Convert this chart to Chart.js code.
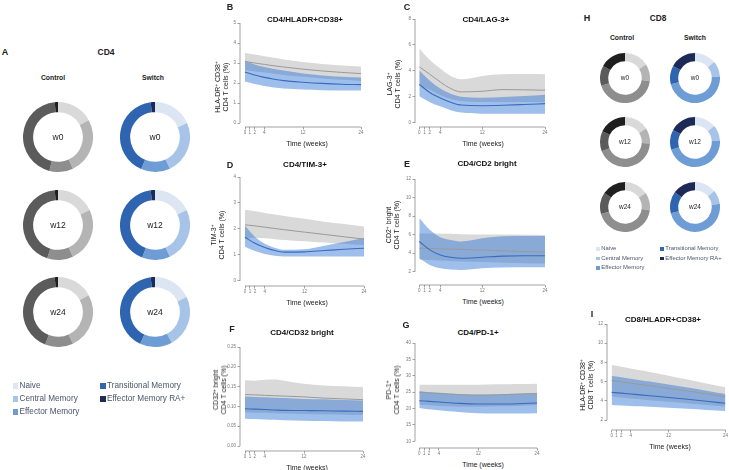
<!DOCTYPE html>
<html>
<head>
<meta charset="utf-8">
<script src="https://cdn.jsdelivr.net/npm/chart.js@4.4.1/dist/chart.umd.min.js"></script>
<style>
  body { margin: 0; background: #fff; }
  #fig { position: relative; width: 729px; height: 470px; overflow: hidden; font-family: "Liberation Sans", Arial, sans-serif; color: #222; }
  #fig canvas { position: absolute; }
  .t { position: absolute; white-space: nowrap; line-height: 1; transform: translate(-50%, -50%); }
  .l { transform: translate(0, -50%); }
  .ylab { text-align: center; line-height: 8px; transform: translate(-50%, -50%) rotate(-90deg); }
  sup { font-size: 70%; line-height: 0; vertical-align: 0.45em; }
  .sw { position: absolute; }
</style>
</head>
<body>
<div id="fig"></div>
<script>
// ---- data -------------------------------------------------------------
const subsets = ['Naive', 'Central Memory', 'Effector Memory', 'Transitional Memory', 'Effector Memory RA+'];
const visits = ['w0', 'w12', 'w24'];

// CD4 subset proportions (%), order as in subsets
const cd4Control = [
  [17, 26, 11, 44.5, 1.5],
  [18, 25, 12, 43.5, 1.5],
  [17, 26, 13, 42.5, 1.5]
];
const cd4Switch = [
  [18.5, 24.5, 13.5, 41.5, 2],
  [18, 25, 13, 42, 2],
  [18, 24, 15, 41, 2]
];
// CD8 subset proportions (%)
const cd8Control = [
  [16, 11, 43, 13, 17],
  [16, 10, 43, 13, 18],
  [15.5, 11.5, 43.5, 14, 15.5]
];
const cd8Switch = [
  [14, 10, 47, 12, 17],
  [14, 10, 46, 13, 17],
  [14, 9, 48, 14, 15]
];

// model fits over time
const weeks = [0, 2, 4, 6, 8, 12, 16, 20, 24];
const weekTicks = [0, 1, 2, 4, 12, 24];

// B  CD4/HLADR+CD38+
const hladr4CtrlHi  = [3.50, 3.42, 3.34, 3.26, 3.18, 3.05, 2.95, 2.88, 2.83];
const hladr4CtrlMid = [3.08, 3.00, 2.93, 2.86, 2.80, 2.69, 2.60, 2.53, 2.47];
const hladr4CtrlLo  = [2.65, 2.58, 2.52, 2.46, 2.40, 2.31, 2.23, 2.16, 2.10];
const hladr4SwHi    = [3.10, 2.93, 2.80, 2.70, 2.62, 2.48, 2.38, 2.31, 2.27];
const hladr4SwMid   = [2.55, 2.40, 2.28, 2.19, 2.12, 2.04, 1.98, 1.94, 1.92];
const hladr4SwLo    = [2.08, 1.95, 1.85, 1.77, 1.72, 1.67, 1.64, 1.63, 1.63];
const hladr4Ticks   = [0, 1, 2, 3, 4, 5];

// C  CD4/LAG-3+
const lagCtrlHi  = [5.73, 4.85, 4.19, 3.62, 3.36, 3.62, 3.75, 3.76, 3.75];
const lagCtrlMid = [4.32, 3.75, 3.16, 2.65, 2.39, 2.44, 2.57, 2.55, 2.52];
const lagCtrlLo  = [2.90, 2.55, 2.15, 1.85, 1.70, 1.62, 1.62, 1.62, 1.62];
const lagSwHi    = [4.06, 3.25, 2.65, 2.25, 2.02, 1.95, 2.00, 2.08, 2.18];
const lagSwMid   = [2.96, 2.35, 1.93, 1.60, 1.38, 1.33, 1.36, 1.42, 1.49];
const lagSwLo    = [2.06, 1.60, 1.29, 0.98, 0.80, 0.72, 0.72, 0.72, 0.72];
const lagTicks   = [0, 2, 4, 6, 8];

// D  CD4/TIM-3+
const timCtrlHi  = [2.74, 2.68, 2.62, 2.56, 2.50, 2.39, 2.28, 2.19, 2.10];
const timCtrlMid = [2.16, 2.12, 2.07, 2.02, 1.97, 1.88, 1.79, 1.70, 1.61];
const timCtrlLo  = [1.62, 1.66, 1.64, 1.61, 1.58, 1.53, 1.48, 1.43, 1.38];
const timSwHi    = [2.12, 1.70, 1.43, 1.28, 1.20, 1.22, 1.36, 1.50, 1.65];
const timSwMid   = [1.68, 1.45, 1.29, 1.17, 1.11, 1.12, 1.17, 1.22, 1.26];
const timSwLo    = [1.32, 1.15, 1.04, 0.97, 0.94, 0.94, 0.94, 0.94, 0.94];
const timTicks   = [0, 1, 2, 3, 4];

// E  CD4/CD2 bright
const cd2CtrlHi  = [6.15, 6.12, 6.10, 6.08, 6.05, 6.02, 6.00, 5.98, 5.97];
const cd2CtrlMid = [4.53, 4.50, 4.46, 4.43, 4.40, 4.33, 4.25, 4.18, 4.10];
const cd2CtrlLo  = [3.30, 3.25, 3.20, 3.15, 3.10, 3.03, 2.97, 2.92, 2.88];
const cd2SwHi    = [7.78, 6.51, 5.72, 5.43, 5.25, 5.60, 5.82, 5.86, 5.86];
const cd2SwMid   = [5.25, 4.35, 3.80, 3.55, 3.44, 3.55, 3.68, 3.72, 3.72];
const cd2SwLo    = [3.44, 2.72, 2.36, 2.22, 2.18, 2.36, 2.45, 2.47, 2.47];
const cd2Ticks   = [2, 4, 6, 8, 10, 12];

// F  CD4/CD32 bright
const cd32CtrlHi  = [0.166, 0.165, 0.167, 0.168, 0.165, 0.157, 0.153, 0.151, 0.149];
const cd32CtrlMid = [0.130, 0.129, 0.128, 0.127, 0.126, 0.124, 0.121, 0.119, 0.117];
const cd32CtrlLo  = [0.085, 0.084, 0.084, 0.083, 0.082, 0.081, 0.080, 0.079, 0.078];
const cd32SwHi    = [0.125, 0.124, 0.123, 0.122, 0.121, 0.119, 0.118, 0.116, 0.115];
const cd32SwMid   = [0.094, 0.093, 0.092, 0.091, 0.090, 0.0895, 0.089, 0.088, 0.0875];
const cd32SwLo    = [0.069, 0.068, 0.067, 0.066, 0.065, 0.064, 0.063, 0.062, 0.062];
const cd32Ticks   = [0, 0.05, 0.10, 0.15, 0.20, 0.25];

// G  CD4/PD-1+
const pd1CtrlHi  = [27.3, 27.3, 27.3, 27.3, 27.3, 27.3, 27.4, 27.5, 27.6];
const pd1CtrlMid = [25.0, 24.8, 24.6, 24.4, 24.3, 24.1, 24.2, 24.4, 24.6];
const pd1CtrlLo  = [21.2, 21.0, 20.8, 20.7, 20.6, 20.6, 20.7, 20.8, 21.0];
const pd1SwHi    = [25.3, 25.0, 24.8, 24.6, 24.4, 24.2, 24.3, 24.5, 24.75];
const pd1SwMid   = [22.4, 22.2, 22.0, 21.8, 21.6, 21.4, 21.4, 21.5, 21.7];
const pd1SwLo    = [20.2, 19.8, 19.5, 19.2, 19.0, 18.6, 18.5, 18.5, 18.6];
const pd1Ticks   = [10, 15, 20, 25, 30, 35, 40];

// I  CD8/HLADR+CD38+
const hladr8CtrlHi  = [7.73, 7.55, 7.37, 7.18, 7.00, 6.62, 6.22, 5.80, 5.40];
const hladr8CtrlMid = [6.10, 5.97, 5.84, 5.70, 5.57, 5.30, 5.02, 4.73, 4.43];
const hladr8CtrlLo  = [4.45, 4.35, 4.25, 4.16, 4.07, 3.90, 3.72, 3.55, 3.38];
const hladr8SwHi    = [6.58, 6.45, 6.30, 6.15, 6.00, 5.70, 5.38, 5.05, 4.70];
const hladr8SwMid   = [4.88, 4.80, 4.71, 4.62, 4.53, 4.35, 4.16, 3.96, 3.74];
const hladr8SwLo    = [3.56, 3.52, 3.47, 3.42, 3.37, 3.27, 3.16, 3.05, 2.94];
const hladr8Ticks   = [2, 4, 6, 8, 10, 12];

// ---- styles -------------------------------------------------------------
const grayPalette = ['#d9d9d9', '#b4b4b4', '#8e8e8e', '#5b5b5b', '#1f1f1f'];
const bluePalette = ['#dce6f3', '#a7c4e8', '#6e9dd6', '#2f64b0', '#1d2a58'];
const legendPalette = ['#dde6f2', '#a8c4e6', '#6f9bd1', '#3366aa', '#1f2d50'];

const fig = document.getElementById('fig');

function put(html, x, y, css, cls) {
  const d = document.createElement('div');
  d.className = 't' + (cls ? ' ' + cls : '');
  d.innerHTML = html;
  d.style.left = x + 'px';
  d.style.top = y + 'px';
  Object.assign(d.style, css || {});
  fig.appendChild(d);
  return d;
}

function makeCanvas(x, y, w, h) {
  const c = document.createElement('canvas');
  c.width = w; c.height = h;
  c.style.left = x + 'px'; c.style.top = y + 'px';
  c.style.width = w + 'px'; c.style.height = h + 'px';
  fig.appendChild(c);
  return c;
}

// ---- doughnuts -----------------------------------------------------------
function donut(values, colors, cx, cy, r, cutout, label, fs) {
  const c = makeCanvas(Math.round(cx - r), Math.round(cy - r), 2 * r, 2 * r);
  new Chart(c.getContext('2d'), {
    type: 'doughnut',
    data: { labels: subsets, datasets: [{ data: values, backgroundColor: colors, borderWidth: 0 }] },
    options: {
      responsive: false, animation: false, cutout: cutout,
      layout: { padding: 0 },
      plugins: { legend: { display: false }, tooltip: { enabled: false } }
    }
  });
  put(label, cx, cy, { fontSize: fs + 'px', color: '#222' });
}

function legend(x1, x2, y0, dy, sq, fs) {
  const cols = [[0, 1, 2], [3, 4]];
  cols.forEach((idx, ci) => {
    idx.forEach((k, row) => {
      const x = ci === 0 ? x1 : x2;
      const y = y0 + row * dy;
      const s = document.createElement('div');
      s.className = 'sw';
      Object.assign(s.style, { left: x + 'px', top: (y - sq / 2) + 'px', width: sq + 'px', height: sq + 'px', background: legendPalette[k] });
      fig.appendChild(s);
      put(subsets[k], x + sq + 1.5, y, { fontSize: fs + 'px', color: '#4a5569' }, 'l');
    });
  });
}

// panel A
put('A', 5, 52, { fontSize: '9px', fontWeight: 'bold' });
put('CD4', 106, 52, { fontSize: '8.5px', fontWeight: 'bold' });
put('Control', 53, 78, { fontSize: '6.8px', fontWeight: 'bold' });
put('Switch', 153, 78, { fontSize: '6.8px', fontWeight: 'bold' });
const rowA = [137, 225, 312];
visits.forEach((v, i) => {
  donut(cd4Control[i], grayPalette, 58, rowA[i], 35, '71%', v, 8.5);
  donut(cd4Switch[i], bluePalette, 155, rowA[i], 35, '71%', v, 8.5);
});
legend(12.5, 100, 386, 13, 5.5, 8.2);

// panel H
put('H', 587, 18, { fontSize: '9px', fontWeight: 'bold' });
put('CD8', 658, 18, { fontSize: '8.3px', fontWeight: 'bold' });
put('Control', 622, 38, { fontSize: '6.8px', fontWeight: 'bold' });
put('Switch', 695, 38, { fontSize: '6.8px', fontWeight: 'bold' });
const rowH = [78, 142, 207];
visits.forEach((v, i) => {
  donut(cd8Control[i], grayPalette, 625, rowH[i], 25, '67%', v, 6.5);
  donut(cd8Switch[i], bluePalette, 695, rowH[i], 25, '67%', v, 6.5);
});
legend(596, 660, 249, 9.5, 3.8, 5.9);

// ---- trajectories ---------------------------------------------------------
const rAxes = {
  id: 'rAxes',
  afterDraw(chart) {
    const { ctx, scales: { x, y } } = chart;
    const xt = x.ticks, yt = y.ticks;
    ctx.save();
    ctx.strokeStyle = '#8a8a8a';
    ctx.lineWidth = 0.8;
    ctx.beginPath();
    ctx.moveTo(x.getPixelForValue(xt[0].value), x.top);
    ctx.lineTo(x.getPixelForValue(xt[xt.length - 1].value), x.top);
    ctx.moveTo(y.right, y.getPixelForValue(yt[0].value));
    ctx.lineTo(y.right, y.getPixelForValue(yt[yt.length - 1].value));
    ctx.stroke();
    ctx.restore();
  }
};

const pts = arr => weeks.map((w, i) => ({ x: w, y: arr[i] }));

function trajectory(g, s) {
  const YW = 16, XH = 12, PT = 6, PR = g.padRight || 8;
  const left = Math.round(g.axisX - YW), top = Math.round(g.yHiPx - PT);
  const w = Math.round(g.x24 - g.axisX + YW + PR);
  const h = Math.round(g.axisY - g.yHiPx + PT + XH);
  const yLo = g.yTicks[0], yHi = g.yTicks[g.yTicks.length - 1];
  const yMin = yLo - (g.axisY - g.yLoPx) * (yHi - yLo) / (g.yLoPx - g.yHiPx);
  const xMin = -(g.x0 - g.axisX) * 24 / (g.x24 - g.x0);
  const c = makeCanvas(left, top, w, h);
  const line = (arr, color, width) => ({ data: pts(arr), borderColor: color, borderWidth: width, pointRadius: 0, fill: false, cubicInterpolationMode: 'monotone' });
  const band = (arr, fillColor) => ({ data: pts(arr), borderWidth: 0, pointRadius: 0, backgroundColor: fillColor, fill: '+1', cubicInterpolationMode: 'monotone' });
  const edge = arr => ({ data: pts(arr), borderWidth: 0, pointRadius: 0, fill: false, cubicInterpolationMode: 'monotone' });
  const tickFont = { size: 4.5, family: 'Liberation Sans' };
  const grid = { drawOnChartArea: false, drawTicks: true, tickLength: 2.5, color: '#8a8a8a', lineWidth: 0.8 };
  new Chart(c.getContext('2d'), {
    type: 'line',
    data: {
      datasets: [
        line(s.swMid, '#3a6bbf', 1.1),
        line(s.ctrlMid, '#9a9a9a', 1),
        band(s.swHi, 'rgba(40,110,210,0.45)'),
        edge(s.swLo),
        band(s.ctrlHi, '#d9d9d9'),
        edge(s.ctrlLo)
      ]
    },
    options: {
      responsive: false, animation: false,
      layout: { padding: { top: PT, right: PR, left: 0, bottom: 0 } },
      plugins: { legend: { display: false }, tooltip: { enabled: false } },
      scales: {
        x: {
          type: 'linear', min: xMin, max: 24,
          afterBuildTicks: sc => { sc.ticks = weekTicks.map(v => ({ value: v })); },
          afterFit: sc => { sc.height = XH; },
          ticks: { font: tickFont, color: '#777', padding: 1, maxRotation: 0, autoSkip: false },
          grid: grid, border: { display: false }
        },
        y: {
          type: 'linear', min: yMin, max: yHi,
          afterBuildTicks: sc => { sc.ticks = g.yTicks.map(v => ({ value: v })); },
          afterFit: sc => { sc.width = YW; },
          ticks: { font: tickFont, color: '#777', padding: 1.5, callback: g.fmt || (v => v) },
          grid: grid, border: { display: false }
        }
      }
    },
    plugins: [rAxes]
  });
  put(g.letter, g.letterX, g.letterY, { fontSize: '9px', fontWeight: 'bold' });
  put(g.title, g.titleX, g.titleY, { fontSize: '8px', fontWeight: 'bold', color: '#111' });
  put(g.ylab, g.ylabX, g.ylabY, { fontSize: '7px' }, 'ylab');
  put('Time (weeks)', g.timeX, g.axisY + 16, { fontSize: '7px' });
}

trajectory(
  { letter: 'B', letterX: 230, letterY: 7, title: 'CD4/HLADR+CD38+', titleX: 305, titleY: 20,
    ylab: 'HLA-DR<sup>+</sup> CD38<sup>+</sup><br>CD4 T cells (%)', ylabX: 222, ylabY: 87,
    axisX: 240, x0: 245, x24: 361, axisY: 126.7, yLoPx: 122.7, yHiPx: 22.7, yTicks: hladr4Ticks, timeX: 307 },
  { ctrlHi: hladr4CtrlHi, ctrlMid: hladr4CtrlMid, ctrlLo: hladr4CtrlLo, swHi: hladr4SwHi, swMid: hladr4SwMid, swLo: hladr4SwLo });

trajectory(
  { letter: 'C', letterX: 407, letterY: 7, title: 'CD4/LAG-3+', titleX: 486, titleY: 20,
    ylab: 'LAG-3<sup>+</sup><br>CD4 T cells (%)', ylabX: 393.5, ylabY: 84,
    axisX: 415, x0: 419.3, x24: 545, axisY: 126.7, yLoPx: 122.7, yHiPx: 19, yTicks: lagTicks, timeX: 483 },
  { ctrlHi: lagCtrlHi, ctrlMid: lagCtrlMid, ctrlLo: lagCtrlLo, swHi: lagSwHi, swMid: lagSwMid, swLo: lagSwLo });

trajectory(
  { letter: 'D', letterX: 230, letterY: 165, title: 'CD4/TIM-3+', titleX: 305, titleY: 165,
    ylab: 'TIM-3<sup>+</sup><br>CD4 T cells (%)', ylabX: 218, ylabY: 235,
    axisX: 240, x0: 245, x24: 364, axisY: 286, yLoPx: 281, yHiPx: 177.3, yTicks: timTicks, timeX: 307 },
  { ctrlHi: timCtrlHi, ctrlMid: timCtrlMid, ctrlLo: timCtrlLo, swHi: timSwHi, swMid: timSwMid, swLo: timSwLo });

trajectory(
  { letter: 'E', letterX: 407, letterY: 164, title: 'CD4/CD2 bright', titleX: 487, titleY: 164,
    ylab: 'CD2<sup>+</sup> bright<br>CD4 T cells (%)', ylabX: 392.5, ylabY: 225,
    axisX: 415, x0: 419.3, x24: 545, axisY: 285, yLoPx: 271.7, yHiPx: 179.3, yTicks: cd2Ticks, timeX: 483 },
  { ctrlHi: cd2CtrlHi, ctrlMid: cd2CtrlMid, ctrlLo: cd2CtrlLo, swHi: cd2SwHi, swMid: cd2SwMid, swLo: cd2SwLo });

trajectory(
  { letter: 'F', letterX: 232, letterY: 329, title: 'CD4/CD32 bright', titleX: 302, titleY: 333,
    ylab: 'CD32<sup>+</sup> bright<br>CD4 T cells (%)', ylabX: 219.5, ylabY: 390,
    axisX: 240, x0: 245, x24: 363, axisY: 450.7, yLoPx: 445.7, yHiPx: 346.7, yTicks: cd32Ticks, timeX: 307,
    fmt: v => v.toFixed(2) },
  { ctrlHi: cd32CtrlHi, ctrlMid: cd32CtrlMid, ctrlLo: cd32CtrlLo, swHi: cd32SwHi, swMid: cd32SwMid, swLo: cd32SwLo });

trajectory(
  { letter: 'G', letterX: 406, letterY: 325, title: 'CD4/PD-1+', titleX: 478, titleY: 333,
    ylab: 'PD-1<sup>+</sup><br>CD4 T cells (%)', ylabX: 393, ylabY: 390,
    axisX: 415, x0: 419.3, x24: 536.7, axisY: 448.3, yLoPx: 441.7, yHiPx: 343.3, yTicks: pd1Ticks, timeX: 483 },
  { ctrlHi: pd1CtrlHi, ctrlMid: pd1CtrlMid, ctrlLo: pd1CtrlLo, swHi: pd1SwHi, swMid: pd1SwMid, swLo: pd1SwLo });

trajectory(
  { letter: 'I', letterX: 592, letterY: 314, title: 'CD8/HLADR+CD38+', titleX: 663, titleY: 320,
    ylab: 'HLA-DR<sup>+</sup> CD38<sup>+</sup><br>CD8 T cells (%)', ylabX: 587, ylabY: 385,
    axisX: 607, x0: 611.7, x24: 726.5, padRight: 2, axisY: 430, yLoPx: 420, yHiPx: 324, yTicks: hladr8Ticks, timeX: 670 },
  { ctrlHi: hladr8CtrlHi, ctrlMid: hladr8CtrlMid, ctrlLo: hladr8CtrlLo, swHi: hladr8SwHi, swMid: hladr8SwMid, swLo: hladr8SwLo });
</script>
</body>
</html>
